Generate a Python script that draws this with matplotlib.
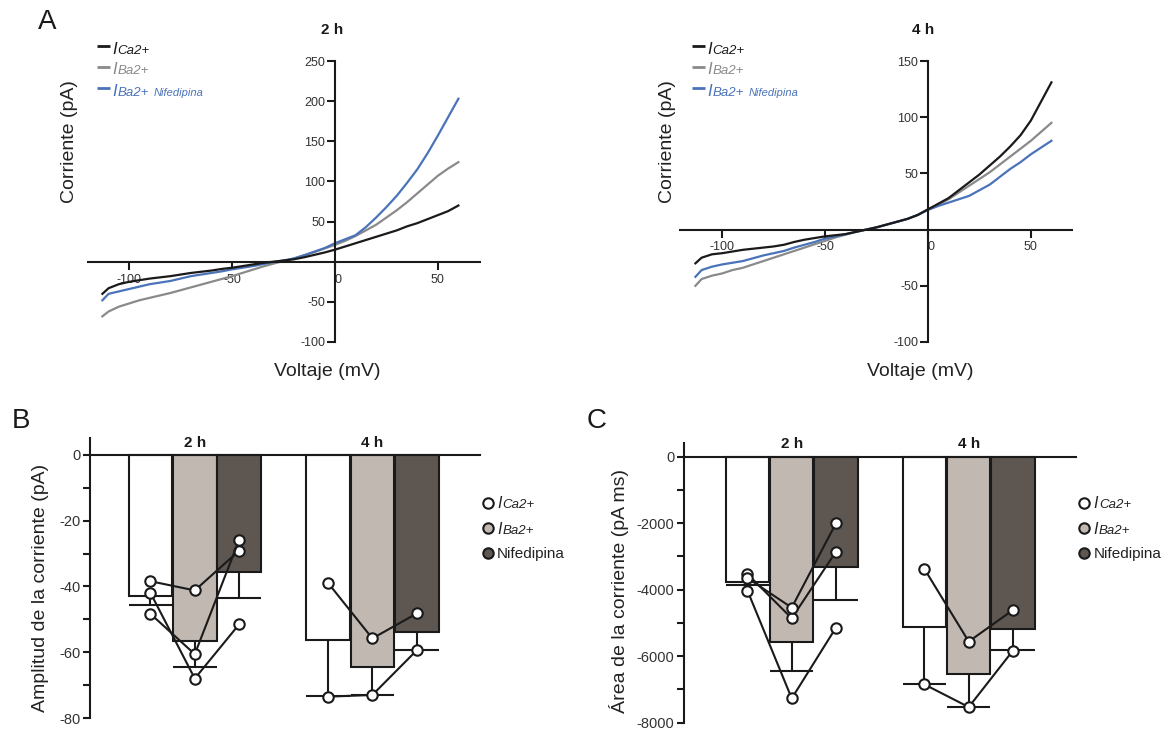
import matplotlib
matplotlib.use('Agg')
import matplotlib.pyplot as plt

plt.rcParams['font.family'] = ['Liberation Sans', 'DejaVu Sans']
plt.rcParams['axes.unicode_minus'] = False

# Rampas I-V (mV, pA)
voltaje = [-113, -110, -105, -100, -95, -90, -85, -80, -75, -70, -65, -60,
           -55, -50, -45, -40, -35, -30, -25, -20, -15, -10, -5, 0,
           5, 10, 15, 20, 25, 30, 35, 40, 45, 50, 55, 60]

ica_2h = [-40, -33, -28, -25, -23, -21, -19.5, -18, -16, -14, -12.5, -11,
          -9, -7.5, -5.5, -3.5, -1.5, 0, 1.5, 3, 5.5, 8.5, 11.5, 15,
          19, 23, 27, 31, 35, 39, 44, 48, 53, 58, 63, 70]
iba_2h = [-68, -62, -56, -52, -48, -45, -42, -39, -35.5, -32, -28.5, -25,
          -21.5, -18, -14, -10, -6, -2.5, 1, 4, 8, 12, 16.5, 21,
          26, 32, 39, 46, 55, 64, 74, 85, 96, 107, 116, 124]
inif_2h = [-48, -40, -37, -34, -31, -28, -26, -24, -21, -18, -16, -14,
           -12, -9.5, -7.5, -5.5, -3, -0.5, 1.5, 4, 8, 12.5, 17, 23,
           28, 33, 43, 55, 68, 82, 98, 115, 135, 157, 180, 203]

ica_4h = [-30, -25, -22, -21, -19.5, -18, -17, -16, -15, -13.5, -11, -9,
          -7.5, -6, -5, -4, -2, 0, 2, 4.5, 7, 9.5, 13, 18,
          23, 28, 35, 42, 49, 57, 65, 74, 84, 97, 114, 131]
iba_4h = [-50, -44, -41, -39, -36, -34, -31, -28, -25, -22, -19, -16,
          -13, -10, -7, -4.5, -2, 0, 2, 4.5, 7, 9.5, 13, 18,
          22, 27, 33, 39, 45, 51, 58, 65, 72, 79, 87, 95]
inif_4h = [-42, -36, -33, -31, -29.5, -28, -25.5, -23, -21, -19, -16, -13.5,
           -11, -8, -6, -4, -2, 0, 2, 4.5, 7, 9.5, 13, 17.5,
           21, 24, 27, 30, 35, 40, 47, 54, 60, 67, 73, 79]

# Barras: media y error (ICa, IBa, Nifedipina)
grupos = ['2 h', '4 h']
amp_media = [[-42.9, -56.6, -35.5], [-56.3, -64.4, -53.7]]
amp_error = [[2.8, 8.0, 8.1], [16.9, 8.6, 5.7]]
area_media = [[-3770, -5570, -3330], [-5110, -6550, -5180]]
area_error = [[100, 870, 980], [1740, 980, 630]]

# Celulas individuales: una fila por celula (ICa, IBa, Nifedipina)
amp_celulas = [
    [[-38.4, -41.2, -29.1], [-41.9, -68.0, -51.5], [-48.3, -60.6, -25.8]],
    [[-38.9, -55.8, -48.2], [-73.5, -73.0, -59.4]],
]
area_celulas = [
    [[-3530, -4860, -2855], [-3650, -4540, -2000], [-4030, -7270, -5140]],
    [[-3380, -5560, -4610], [-6850, -7530, -5830]],
]

NEGRO = '#1a1a1a'
GRIS = '#8a8a8a'
AZUL = '#4a73ba'
CLARO = '#c1b8b2'
OSCURO = '#5d5651'
colores_barra = ['white', CLARO, OSCURO]

W, H = 1166, 738
fig = plt.figure(figsize=(W / 100, H / 100), dpi=100)


def ejes(left, top, right, bottom):
    return fig.add_axes([left / W, 1 - bottom / H, (right - left) / W, (bottom - top) / H])


def panel_iv(ax, xlim, ylim, yticks, curvas):
    for y, c in curvas:
        ax.plot(voltaje, y, color=c, lw=1.6, zorder=2)
    ax.set_xlim(xlim)
    ax.set_ylim(ylim)
    ax.spines['left'].set_position(('data', 0))
    ax.spines['bottom'].set_position(('data', 0))
    ax.spines[['top', 'right']].set_visible(False)
    for s in ('left', 'bottom'):
        ax.spines[s].set_linewidth(1.5)
        ax.spines[s].set_color(NEGRO)
    ax.set_yticks(yticks, labels=[str(t) for t in yticks])
    xt = [-100, -50, 0, 50]
    ax.set_xticks(xt, labels=[str(t) for t in xt])
    ax.tick_params(axis='both', direction='out', length=5.5, width=1.5,
                   color=NEGRO, labelcolor='#333333', labelsize=9)
    ax.tick_params(axis='y', pad=1.5)
    ax.tick_params(axis='x', pad=3)
    for lbl in ax.get_xticklabels():
        if lbl.get_text() == '0':
            lbl.set_ha('left')
    ax.patch.set_alpha(0)


def panel_barras(ax, medias, errores, celulas, ylim, major, minor, xlim):
    w = 0.245
    offs = [-0.25, 0, 0.25]
    for g in range(len(grupos)):
        xs = [g + o for o in offs]
        ax.bar(xs, medias[g], width=w, color=colores_barra, edgecolor=NEGRO,
               linewidth=1.5, zorder=2)
        bajo = [m - e for m, e in zip(medias[g], errores[g])]
        ax.vlines(xs, medias[g], bajo, color=NEGRO, lw=1.5, zorder=2.5)
        ax.hlines(bajo, [x - w / 2 for x in xs], [x + w / 2 for x in xs],
                  color=NEGRO, lw=1.5, zorder=2.5)
        for cel in celulas[g]:
            ax.plot(xs, cel, '-o', color=NEGRO, lw=1.5, ms=7.5, mfc='white',
                    mec=NEGRO, mew=1.5, zorder=4)
        ax.annotate(grupos[g], xy=(g, 0), xytext=(0, 6), textcoords='offset points',
                    ha='center', va='baseline', fontsize=11, weight='bold',
                    color=NEGRO)
    ax.set_xlim(xlim)
    ax.set_ylim(ylim)
    ax.spines['bottom'].set_position(('data', 0))
    ax.spines[['top', 'right']].set_visible(False)
    for s in ('left', 'bottom'):
        ax.spines[s].set_linewidth(1.5)
        ax.spines[s].set_color(NEGRO)
    ax.set_xticks([])
    ax.set_yticks(major, labels=[str(t) for t in major])
    ax.set_yticks(minor, minor=True)
    ax.tick_params(axis='y', which='both', direction='out', length=5, width=1.5,
                   color=NEGRO, labelcolor='#333333', labelsize=10.5, pad=2)
    ax.patch.set_alpha(0)


# Panel A
axA1 = ejes(88, 61, 480, 342)
panel_iv(axA1, (-120, 70.5), (-100, 250), [-100, -50, 50, 100, 150, 200, 250],
         [(iba_2h, GRIS), (inif_2h, AZUL), (ica_2h, NEGRO)])
axA2 = ejes(680, 61, 1072, 342)
panel_iv(axA2, (-120.5, 70), (-100, 150), [-100, -50, 50, 100, 150],
         [(iba_4h, GRIS), (inif_4h, AZUL), (ica_4h, NEGRO)])

# Paneles B y C
axB = ejes(90, 438.5, 480, 718)
panel_barras(axB, amp_media, amp_error, amp_celulas, (-80, 5),
             [0, -20, -40, -60, -80], [-10, -30, -50, -70], (-0.59, 1.606))
axC = ejes(684.3, 442.7, 1076, 722.7)
panel_barras(axC, area_media, area_error, area_celulas, (-8000, 420),
             [0, -2000, -4000, -6000, -8000], [-1000, -3000, -5000, -7000],
             (-0.607, 1.606))

# Capa de textos en pixeles
ov = fig.add_axes([0, 0, 1, 1])
ov.set_xlim(0, W)
ov.set_ylim(H, 0)
ov.axis('off')
ov.patch.set_visible(False)

for letra, x, y in [('A', 47, 22), ('B', 21, 421), ('C', 597, 421)]:
    ov.text(x, y, letra, fontsize=20, ha='center', va='center', color=NEGRO)

for t, x in [('2 h', 332), ('4 h', 923)]:
    ov.text(x, 30, t, fontsize=11, weight='bold', ha='center', va='center', color=NEGRO)

for x in (70, 667):
    ov.text(x, 142, 'Corriente (pA)', rotation=90, fontsize=14,
            ha='center', va='center', color='#222222')
for x in (327, 920):
    ov.text(x, 371, 'Voltaje (mV)', fontsize=14, ha='center', va='center',
            color='#222222')
ov.text(41, 588, 'Amplitud de la corriente (pA)', rotation=90, fontsize=14,
        ha='center', va='center', color='#222222')
ov.text(619, 591, 'Área de la corriente (pA ms)', rotation=90, fontsize=14,
        ha='center', va='center', color='#222222')


def etiqueta_i(x, y, sub, color, size_i, size_sub):
    t = ov.text(x, y, 'I', style='italic', fontsize=size_i, color=color, va='baseline')
    return ov.annotate(sub, xy=(1, 0), xycoords=t, xytext=(0.8, 0),
                       textcoords='offset points', style='italic',
                       fontsize=size_sub, color=color, va='bottom')


# Leyendas de las trazas
for x0 in (97, 692):
    for y, col, sub in [(46, NEGRO, 'Ca2+'), (67, GRIS, 'Ba2+'), (88, AZUL, 'Ba2+')]:
        ov.plot([x0, x0 + 13], [y, y], color=col, lw=2, solid_capstyle='butt')
        t2 = etiqueta_i(x0 + 15, y + 7.5, sub, col, 12, 9.5)
        if y == 88:
            ov.annotate('Nifedipina', xy=(1, 0), xycoords=t2, xytext=(3, 0),
                        textcoords='offset points', style='italic', fontsize=8,
                        color=AZUL, va='bottom')

# Leyendas de las barras
for cx in (488, 1084.3):
    for cy, fc in [(503, 'white'), (528, CLARO), (553, OSCURO)]:
        ov.plot(cx, cy, 'o', ms=7.5, mfc=fc, mec=NEGRO, mew=1.5)
    etiqueta_i(cx + 9, 508.5, 'Ca2+', '#222222', 11.5, 9.5)
    etiqueta_i(cx + 9, 533.5, 'Ba2+', '#222222', 11.5, 9.5)
    ov.text(cx + 9, 558, 'Nifedipina', fontsize=11, color='#222222', va='baseline')

fig.savefig('out.png', dpi=100)
